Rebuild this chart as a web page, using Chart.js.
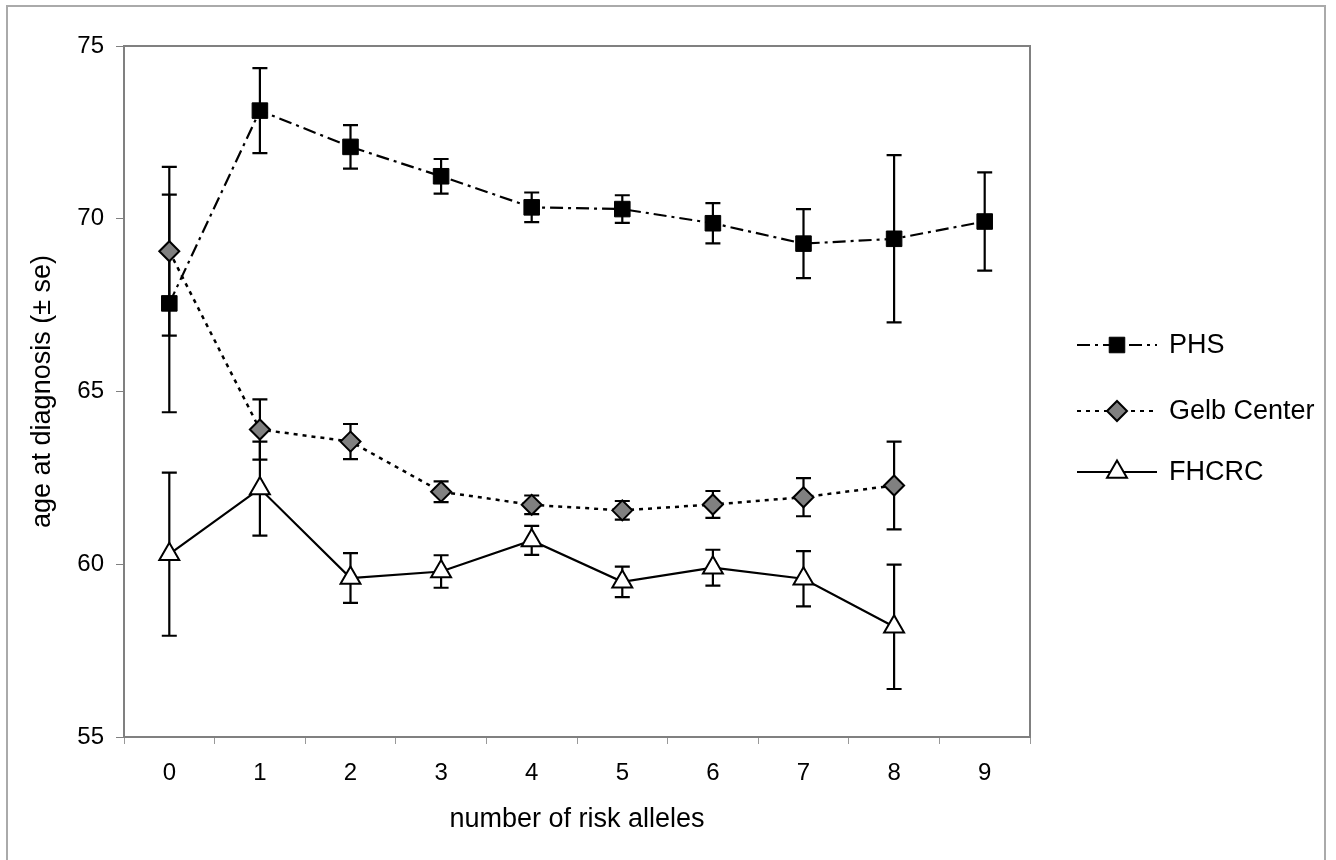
<!DOCTYPE html>
<html>
<head>
<meta charset="utf-8">
<script src="https://cdn.jsdelivr.net/npm/chart.js@4/dist/chart.umd.min.js"></script>
<style>
  body { margin: 0; background: #fff; }
</style>
</head>
<body>
<canvas id="ageChart" width="1336" height="860"></canvas>
<script>
const alleles = ["0", "1", "2", "3", "4", "5", "6", "7", "8", "9"];

const phsMean = [67.55, 73.13, 72.08, 71.23, 70.33, 70.28, 69.87, 69.28, 69.42, 69.92];
const phsSe = [3.15, 1.23, 0.63, 0.5, 0.43, 0.4, 0.58, 1.0, 2.42, 1.42];

const gelbMean = [69.06, 63.9, 63.55, 62.1, 61.72, 61.56, 61.73, 61.94, 62.28, null];
const gelbSe = [2.44, 0.87, 0.51, 0.3, 0.27, 0.27, 0.39, 0.55, 1.27, null];

const fhcrcMean = [60.29, 62.19, 59.6, 59.79, 60.69, 59.49, 59.9, 59.58, 58.19, null];
const fhcrcSe = [2.36, 1.36, 0.72, 0.47, 0.42, 0.44, 0.52, 0.8, 1.8, null];

const yTicks = [55, 60, 65, 70, 75];

Chart.defaults.font.family = "'Liberation Sans', Arial, sans-serif";
Chart.defaults.color = "#000";

const ctx = document.getElementById("ageChart").getContext("2d");

// error bars go under the lines and markers
const errorBars = {
  id: "errorBars",
  beforeDatasetsDraw(chart) {
    const c = chart.ctx;
    const y = chart.scales.y;
    c.save();
    c.strokeStyle = "#000";
    c.lineWidth = 2.2;
    chart.data.datasets.forEach((ds, di) => {
      const meta = chart.getDatasetMeta(di);
      ds.se.forEach((se, i) => {
        const v = ds.data[i];
        if (v == null || se == null) return;
        const x = meta.data[i].x;
        const top = y.getPixelForValue(v + se);
        const bot = y.getPixelForValue(v - se);
        c.beginPath();
        c.moveTo(x, top); c.lineTo(x, bot);
        c.moveTo(x - 7.5, top); c.lineTo(x + 7.5, top);
        c.moveTo(x - 7.5, bot); c.lineTo(x + 7.5, bot);
        c.stroke();
      });
    });
    c.restore();
  }
};

// plot frame, outer frame and the line+marker legend on the right
const frame = {
  id: "frame",
  afterDraw(chart) {
    const c = chart.ctx;
    const a = chart.chartArea;
    c.save();
    c.strokeStyle = "#aaaaaa";
    c.lineWidth = 2;
    c.strokeRect(7, 6, 1318, 900);
    c.strokeStyle = "#808080";
    c.lineWidth = 2;
    c.strokeRect(a.left, a.top, a.right - a.left, a.bottom - a.top);

    const rows = [345, 411, 472];
    chart.data.datasets.forEach((ds, i) => {
      const ly = rows[i];
      c.strokeStyle = "#000";
      c.lineWidth = 2;
      c.setLineDash(ds.borderDash || []);
      c.beginPath();
      c.moveTo(1077, ly); c.lineTo(1157, ly);
      c.stroke();
      c.setLineDash([]);
      drawMarker(c, ds, 1117, ly);
      c.fillStyle = "#000";
      c.font = "27px 'Liberation Sans', Arial, sans-serif";
      c.textBaseline = "middle";
      c.textAlign = "left";
      c.fillText(ds.label, 1169, ly + 1);
    });
    c.restore();
  }
};

function drawMarker(c, ds, x, y) {
  const r = ds.pointRadius;
  c.fillStyle = ds.pointBackgroundColor;
  c.strokeStyle = ds.pointBorderColor;
  c.lineWidth = ds.pointBorderWidth;
  c.beginPath();
  if (ds.pointStyle === "rect") {
    const s = Math.SQRT1_2 * r;
    c.rect(x - s, y - s, 2 * s, 2 * s);
  } else if (ds.pointStyle === "rectRot") {
    c.moveTo(x - r, y); c.lineTo(x, y - r); c.lineTo(x + r, y); c.lineTo(x, y + r);
    c.closePath();
  } else {
    c.moveTo(x, y - r);
    c.lineTo(x + 0.866 * r, y + 0.5 * r);
    c.lineTo(x - 0.866 * r, y + 0.5 * r);
    c.closePath();
  }
  c.fill();
  c.stroke();
}

new Chart(ctx, {
  type: "line",
  data: {
    labels: alleles,
    datasets: [
      {
        label: "PHS",
        data: phsMean,
        se: phsSe,
        borderColor: "#000",
        borderWidth: 2.2,
        borderDash: [13, 5, 3, 5],
        pointStyle: "rect",
        pointRadius: 11,
        pointBackgroundColor: "#000",
        pointBorderColor: "#000",
        pointBorderWidth: 1,
        tension: 0
      },
      {
        label: "Gelb Center",
        data: gelbMean,
        se: gelbSe,
        borderColor: "#000",
        borderWidth: 2.5,
        borderDash: [4, 5],
        pointStyle: "rectRot",
        pointRadius: 10,
        pointBackgroundColor: "#808080",
        pointBorderColor: "#000",
        pointBorderWidth: 2,
        tension: 0
      },
      {
        label: "FHCRC",
        data: fhcrcMean,
        se: fhcrcSe,
        borderColor: "#000",
        borderWidth: 2.2,
        pointStyle: "triangle",
        pointRadius: 11.5,
        pointBackgroundColor: "#fff",
        pointBorderColor: "#000",
        pointBorderWidth: 2,
        tension: 0
      }
    ]
  },
  options: {
    responsive: false,
    animation: false,
    layout: { padding: { left: 0, top: 46, right: 306, bottom: 0 } },
    plugins: {
      legend: { display: false },
      tooltip: { enabled: false }
    },
    scales: {
      x: {
        type: "category",
        offset: true,
        grid: { offset: true, drawOnChartArea: false, tickLength: 7, color: "#999" },
        border: { display: false },
        ticks: { font: { size: 24 }, padding: 15, maxRotation: 0 },
        title: {
          display: true,
          text: "number of risk alleles",
          font: { size: 27 },
          padding: { top: 0, bottom: 24 }
        },
        afterFit: s => { s.height = 123; }
      },
      y: {
        min: 55,
        max: 75,
        afterBuildTicks: s => { s.ticks = yTicks.map(v => ({ value: v })); },
        grid: { drawOnChartArea: false, tickLength: 8, color: "#808080" },
        border: { display: false },
        ticks: { font: { size: 24 }, padding: 12 },
        title: {
          display: true,
          text: "age at diagnosis (± se)",
          font: { size: 27 },
          padding: { top: 26, bottom: 0 }
        },
        afterFit: s => { s.width = 124; }
      }
    }
  },
  plugins: [errorBars, frame]
});
</script>
</body>
</html>
